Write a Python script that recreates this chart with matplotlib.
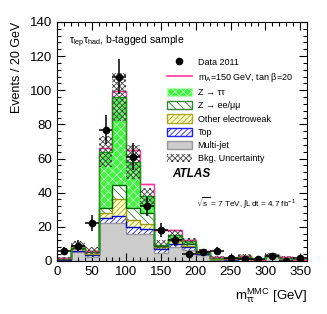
import numpy as np
import matplotlib
matplotlib.use("Agg")
import matplotlib.pyplot as plt
from matplotlib.patches import Patch
from matplotlib.lines import Line2D
from matplotlib.ticker import MultipleLocator

plt.rcParams['font.family'] = ['Liberation Sans', 'DejaVu Sans']
plt.rcParams['mathtext.fontset'] = 'custom'
plt.rcParams['mathtext.rm'] = 'Liberation Sans'
plt.rcParams['mathtext.it'] = 'Liberation Sans:italic'
plt.rcParams['mathtext.bf'] = 'Liberation Sans:bold'
plt.rcParams['hatch.linewidth'] = 0.6

# ---- data ----
bin_edges = [0, 20, 40, 60, 80, 100, 120, 140, 160, 180, 200, 220, 240, 260, 280, 300, 320, 340, 360]
multijet = [0.5, 5.5, 2.5, 22, 22, 16, 15.5, 4.5, 8, 6.5, 3.5, 0.6, 0.6, 1.5, 0.3, 2.2, 1.2, 0.3]
top = [0.2, 0.5, 1.0, 3, 4.5, 4, 3, 2.5, 2, 1.5, 0.8, 0.4, 0.2, 0.5, 0.1, 0.5, 0.3, 0.1]
other_ew = [0.2, 0.8, 0.8, 3, 9.5, 4, 3, 1, 1.5, 1, 0.4, 0.3, 0.1, 0.5, 0.1, 0.3, 0.2, 0.1]
z_eemumu = [0.2, 1.0, 1.0, 3, 8.5, 7, 6.5, 1, 1.5, 1, 0.4, 0.3, 0.1, 0.3, 0.05, 0.3, 0.2, 0.05]
z_tautau = [0.4, 1.2, 0.7, 33, 51.5, 27, 10, 0.5, 2, 1.5, 0.4, 0.4, 0.2, 0.2, 0.05, 0.2, 0.1, 0.05]
signal = [0, 0, 0, 2, 3.5, 7, 7, 8.5, 3, 1, 0.5, 0.2, 0.1, 0.1, 0.1, 0.1, 0.1, 0.1]
bkg_unc = [0.8, 2.5, 2, 9, 14, 10, 5, 2.5, 3, 2, 1.2, 0.8, 0.5, 1, 0.4, 1, 0.6, 0.3]
data_counts = [6, 9, 22, 77, 108, 61, 32, 18, 12, 4, 5, 6, 2, 1, 1, 3, 0, 2]

edges = np.array(bin_edges, dtype=float)
centers = 0.5 * (edges[:-1] + edges[1:])
halfw = 0.5 * np.diff(edges)

fig = plt.figure(figsize=(3.27, 3.14), dpi=100)
ax = fig.add_axes([0.174, 0.169, 0.765, 0.761])

components = [
    (multijet, '#cccccc', None, '#cccccc', '#999999', 'Multi-jet'),
    (top, '#ffffff', '//////', '#2222ee', '#0000cc', 'Top'),
    (other_ew, '#ffffcc', '//////', '#aaaa22', '#999900', 'Other electroweak'),
    (z_eemumu, '#ffffff', '\\\\\\\\', '#338833', '#006600', 'Z → ee/μμ'),
    (z_tautau, '#44f044', 'xxxx', '#b0ffb0', '#00aa00', 'Z → ττ'),
]

bkg_total = np.sum([np.array(c[0], dtype=float) for c in components], axis=0)
sig_total = bkg_total + np.array(signal)
ax.stairs(sig_total, edges, baseline=None, color='#ff3399', linewidth=1.0, zorder=2.5)

bottom = np.zeros(len(centers))
handles = []
for vals, fc, hatch, hc, ec, lab in components:
    v = np.array(vals, dtype=float)
    topv = bottom + v
    ax.stairs(topv, edges, baseline=bottom, fill=True, facecolor=fc, edgecolor='none', linewidth=0)
    if hatch:
        ax.stairs(topv, edges, baseline=bottom, fill=True, facecolor='none', hatch=hatch,
                  edgecolor=hc, linewidth=0)
    ax.stairs(topv, edges, baseline=None, color=ec, linewidth=1.0, zorder=2.6)
    handles.append(Patch(facecolor=fc, edgecolor=hc if hatch else ec, hatch=hatch, label=lab, linewidth=1.0))
    bottom = topv

# pink top segments drawn above stack outlines
ax.hlines(sig_total, edges[:-1], edges[1:], color='#ff3399', linewidth=1.0, zorder=2.7)

unc = np.array(bkg_unc)
ax.stairs(bkg_total + unc, edges, baseline=bkg_total - unc, fill=True, facecolor='none',
          hatch='xxxxxx', edgecolor='#444444', linewidth=0, zorder=2.8)

d = np.array(data_counts, dtype=float)
ax.errorbar(centers, d, xerr=halfw, yerr=np.sqrt(d), fmt='o', color='black',
            markersize=4.5, elinewidth=1.1, capsize=0, zorder=3)

ax.set_xlim(0, 360)
ax.set_ylim(0, 140)
ax.xaxis.set_major_locator(MultipleLocator(50))
ax.xaxis.set_minor_locator(MultipleLocator(10))
ax.yaxis.set_major_locator(MultipleLocator(20))
ax.yaxis.set_minor_locator(MultipleLocator(4))
ax.tick_params(which='both', direction='in', top=True, right=True, labelsize=9.5, width=0.8)
ax.tick_params(which='major', length=6)
ax.tick_params(which='minor', length=3)
for s in ax.spines.values():
    s.set_linewidth(0.8)
    s.set_zorder(4)

ax.set_ylabel('Events / 20 GeV', loc='top', fontsize=9, labelpad=5)
ax.set_xlabel(r'$\mathregular{m_{\tau\tau}^{MMC}}$ [GeV]', loc='right', fontsize=9.5, labelpad=6)

ax.text(0.05, 0.915, r'$\mathregular{\tau_{lep}\tau_{had}}$, b-tagged sample', transform=ax.transAxes,
        fontsize=7.5, va='center', ha='left')
ax.text(0.46, 0.365, 'ATLAS', transform=ax.transAxes, fontsize=8.5, fontweight='bold',
        fontstyle='italic', va='center', ha='left')
ax.text(0.955, 0.24, r'$\mathregular{\sqrt{s}}$ = 7 TeV, $\mathregular{\int L\, dt}$ = 4.7 fb$^{\mathregular{-1}}$',
        transform=ax.transAxes, fontsize=5.9, va='center', ha='right')

leg_handles = [
    Line2D([], [], marker='o', color='black', linestyle='none', markersize=4.5, label='Data 2011'),
    Line2D([], [], color='#ff3399', linewidth=1.2, label=r'm$_\mathregular{A}$=150 GeV, tan β=20'),
    handles[4], handles[3], handles[2], handles[1], handles[0],
    Patch(facecolor='white', edgecolor='#444444', hatch='xxxxxx', linewidth=0, label='Bkg. Uncertainty'),
]
ax.legend(handles=leg_handles, loc='upper left', bbox_to_anchor=(0.425, 0.865), frameon=False,
          fontsize=6.5, handlelength=2.8, handleheight=1.0, labelspacing=0.45, borderaxespad=0,
          handletextpad=0.6)

fig.savefig('out.png', dpi=100)
